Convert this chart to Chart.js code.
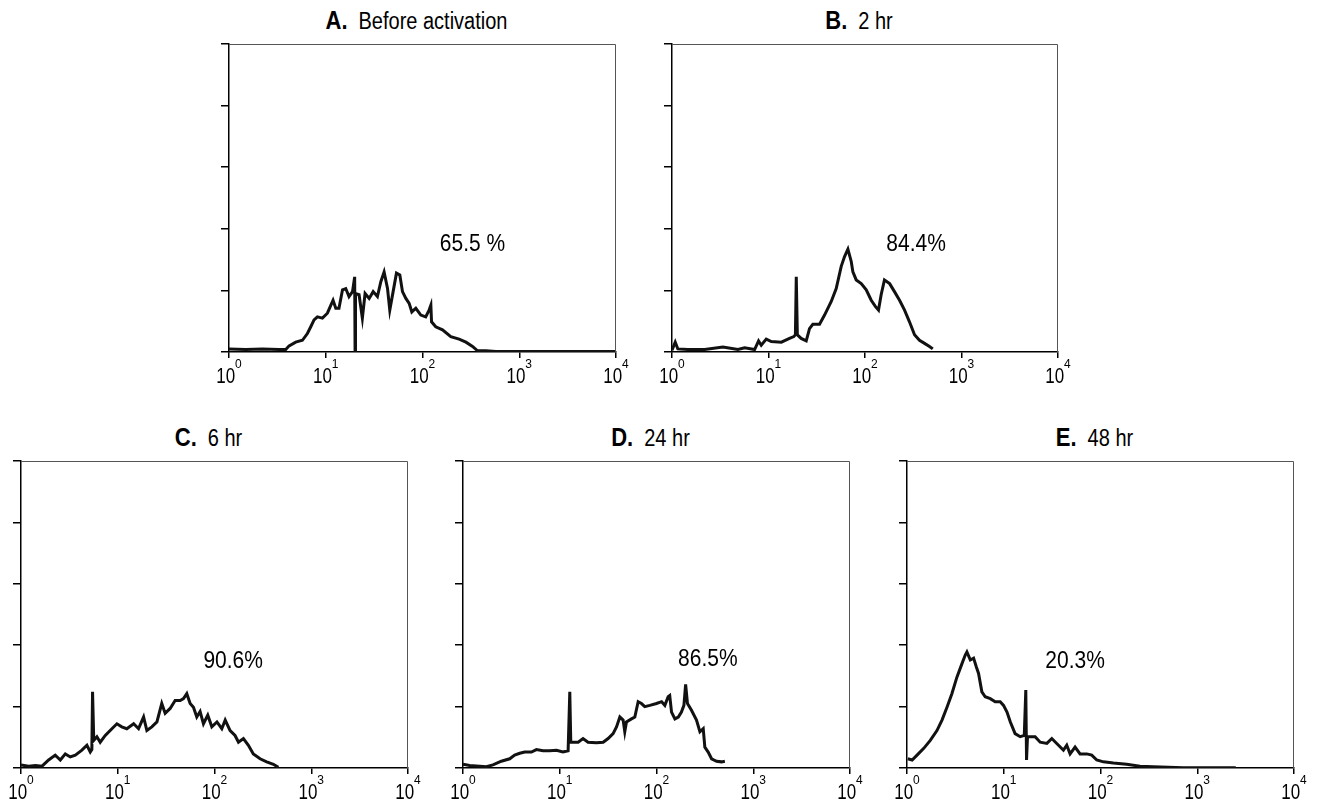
<!DOCTYPE html>
<html>
<head>
  <meta charset="UTF-8">
  <title>CD69 expression histograms</title>
  <script src="https://cdn.jsdelivr.net/npm/chart.js"></script>
  <style>
    * { margin: 0; padding: 0; box-sizing: border-box; }
    body { width: 1325px; height: 805px; background: #fff; position: relative; overflow: hidden;
           font-family: "Liberation Sans", Arial, sans-serif; color: #000; }
    .title { position: absolute; width: 320px; height: 30px; line-height: 30px; text-align: center;
             font-size: 20px; transform: scaleY(1.15); white-space: nowrap; }
    .title b { font-size: 22px; margin-right: 11px; }
    canvas { position: absolute; }
  </style>
</head>
<body>
<script>
  // --- data (x = fluorescence intensity, y = relative count) ---
  const decades = [1, 10, 100, 1000, 10000];
  const decadeExp = ['0', '1', '2', '3', '4'];

  const aX = [1, 1.49, 2.21, 3.29, 3.86, 4.18, 4.89, 5.74, 6.46, 7.0, 7.57, 8.2, 9.24, 10.4, 11.3,
    11.9, 12.7, 13.7, 14.9, 16.1, 17.4, 18.9, 19.9, 20.1, 20.3, 22.1, 23.9, 25.5, 28.1, 30.9,
    34.2, 37.1, 40.1, 43.5, 45.9, 49.7, 53.8, 58.3, 62.1, 67.3, 72.8, 77.6, 85.3, 96.1, 108,
    117, 122, 124, 137, 161, 196, 239, 281, 329, 371, 452, 574, 1000, 3000, 10000];
  const aY = [0.05, 0.04, 0.05, 0.04, 0.04, 0.10, 0.16, 0.19, 0.30, 0.41, 0.52, 0.57, 0.55, 0.63, 0.76,
    0.84, 0.71, 0.71, 1.01, 1.03, 0.90, 0.98, 1.22, 0.0, 0.95, 0.93, 0.55, 0.95, 0.87, 0.98,
    0.90, 1.14, 1.30, 1.03, 0.68, 0.98, 1.28, 1.25, 0.98, 0.87, 0.79, 0.65, 0.71, 0.60, 0.57,
    0.68, 0.76, 0.49, 0.41, 0.36, 0.25, 0.21, 0.16, 0.09, 0.02, 0.02, 0.01, 0.01, 0.01, 0.01];

  const bX = [1, 1.08, 1.15, 1.46, 2.18, 3.37, 4.82, 5.66, 7.18, 7.89, 8.41, 9.48, 10.7, 13.6, 16.5,
    18.3, 19.0, 19.4, 19.9, 21.8, 24.6, 26.6, 28.8, 33.8, 38.1, 44.7, 50.3, 56.7, 61.4, 66.5,
    72.0, 74.9, 81.1, 91.4, 103, 116, 128, 138, 147, 159, 180, 202, 228, 257, 289,
    326, 367, 414, 466, 504];
  const bY = [0.03, 0.16, 0.05, 0.04, 0.04, 0.08, 0.04, 0.07, 0.04, 0.18, 0.11, 0.21, 0.17, 0.16, 0.22,
    0.25, 0.28, 1.22, 0.28, 0.22, 0.18, 0.38, 0.45, 0.45, 0.60, 0.82, 1.03, 1.39, 1.55, 1.67,
    1.47, 1.30, 1.17, 1.11, 1.01, 0.84, 0.74, 0.68, 0.93, 1.17, 1.11, 0.98, 0.84, 0.68, 0.49,
    0.28, 0.19, 0.14, 0.09, 0.05];

  const cX = [1, 1.20, 1.41, 1.65, 1.93, 2.26, 2.55, 2.87, 3.23, 3.64, 4.26, 4.80, 5.20, 5.40, 5.49,
    5.65, 6.09, 6.59, 7.43, 8.70, 9.80, 11.0, 12.4, 14.6, 16.4, 18.5, 20.0, 22.5, 25.4, 28.5,
    30.9, 34.8, 39.2, 44.2, 47.8, 51.7, 56.0, 60.6, 65.6, 71.0, 76.9, 85.2, 93.8, 106, 119,
    129, 145, 163, 177, 199, 224, 252, 296, 346, 406, 457];
  const cY = [0.05, 0.03, 0.04, 0.03, 0.13, 0.21, 0.13, 0.23, 0.18, 0.21, 0.29, 0.37, 0.26, 0.30, 1.24,
    0.45, 0.51, 0.42, 0.53, 0.64, 0.72, 0.67, 0.64, 0.72, 0.64, 0.83, 0.61, 0.67, 0.75, 1.05,
    0.89, 0.97, 1.10, 1.10, 1.13, 1.21, 1.05, 0.99, 0.83, 0.92, 0.72, 0.86, 0.67, 0.75, 0.64,
    0.78, 0.61, 0.53, 0.42, 0.48, 0.37, 0.23, 0.15, 0.10, 0.06, 0.01];

  const dX = [1, 1.17, 1.49, 1.74, 2.04, 2.49, 3.04, 3.42, 3.86, 4.34, 5.09, 5.74, 6.73, 7.88, 9.24,
    10.8, 12.2, 12.7, 13.0, 13.7, 15.5, 17.4, 19.6, 23.9, 28.1, 31.6, 35.6, 38.6, 41.8, 45.2,
    47.0, 48.9, 55.1, 59.7, 64.6, 69.9, 75.7, 85.3, 100, 113, 122, 132, 137, 143, 155,
    168, 181, 192, 200, 209, 230, 259, 281, 304, 316, 342, 371, 418, 470, 509];
  const dY = [0.06, 0.04, 0.03, 0.02, 0.05, 0.11, 0.15, 0.21, 0.24, 0.26, 0.26, 0.30, 0.28, 0.28, 0.29,
    0.26, 0.28, 1.24, 0.42, 0.42, 0.42, 0.48, 0.42, 0.41, 0.42, 0.48, 0.56, 0.67, 0.83, 0.78,
    0.59, 0.75, 0.80, 0.83, 1.08, 1.05, 1.00, 1.02, 1.05, 1.08, 1.02, 1.16, 1.18, 0.91, 0.80,
    0.83, 0.91, 1.02, 1.36, 1.05, 0.94, 0.78, 0.59, 0.64, 0.34, 0.26, 0.15, 0.11, 0.10, 0.11];

  const eX = [1.02, 1.13, 1.27, 1.49, 1.74, 2.04, 2.30, 2.59, 2.91, 3.28, 3.70, 4.00, 4.16, 4.51, 4.88,
    5.20, 5.49, 5.94, 6.43, 7.25, 8.16, 9.19, 9.95, 10.8, 11.7, 13.1, 14.8, 16.3, 16.9, 17.2,
    17.6, 18.7, 21.1, 23.8, 27.9, 31.4, 35.3, 41.4, 44.8, 48.5, 54.6, 61.5, 72.1, 81.2, 91.4,
    107, 136, 186, 256, 351, 716, 2500];
  const eY = [0.15, 0.13, 0.21, 0.32, 0.45, 0.61, 0.78, 0.99, 1.21, 1.48, 1.70, 1.84, 1.89, 1.76, 1.79,
    1.65, 1.54, 1.24, 1.16, 1.13, 1.08, 1.08, 1.02, 0.91, 0.75, 0.56, 0.51, 0.53, 1.27, 0.13,
    0.51, 0.51, 0.51, 0.42, 0.40, 0.48, 0.40, 0.29, 0.37, 0.23, 0.34, 0.23, 0.23, 0.21, 0.13,
    0.10, 0.08, 0.06, 0.03, 0.02, 0.005, 0.003];

  const letters = ['A.', 'B.', 'C.', 'D.', 'E.'];
  const titles = ['Before activation', '2 hr', '6 hr', '24 hr', '48 hr'];
  const percents = ['65.5 %', '84.4%', '90.6%', '86.5%', '20.3%'];
  // where each percentage sits, in data units (x, y)
  const percentX = [329, 338, 156, 339, 54.6];
  const percentY = [1.74, 1.74, 1.73, 1.76, 1.74];

  // --- layout: plot areas in page pixels ---
  const areas = [
    { left: 229, top: 44, w: 387, h: 308 },
    { left: 672, top: 44, w: 386, h: 308 },
    { left: 21, top: 461, w: 387, h: 307 },
    { left: 463, top: 461, w: 387, h: 307 },
    { left: 907, top: 461, w: 387, h: 307 },
  ];
  const seriesX = [aX, bX, cX, dX, eX];
  const seriesY = [aY, bY, cY, dY, eY];

  const FONT = '"Liberation Sans", Arial, sans-serif';
  const PAD = { left: 32, top: 10, right: 30 };
  const AXIS_H = 45;

  const decor = {
    id: 'decor',
    afterDatasetsDraw(chart, args, opts) {
      const { ctx, chartArea: ca, scales } = chart;
      // frame top + right
      ctx.save();
      ctx.strokeStyle = '#555';
      ctx.lineWidth = 1;
      ctx.beginPath();
      ctx.moveTo(ca.left, ca.top + 0.5);
      ctx.lineTo(ca.right - 0.5, ca.top + 0.5);
      ctx.lineTo(ca.right - 0.5, ca.bottom);
      ctx.stroke();
      ctx.restore();

      // percentage label
      const px = scales.x.getPixelForValue(opts.px);
      const py = scales.y.getPixelForValue(opts.py);
      ctx.save();
      ctx.fillStyle = '#000';
      ctx.font = '21px ' + FONT;
      ctx.textAlign = 'center';
      ctx.textBaseline = 'middle';
      ctx.translate(px, py);
      ctx.scale(1, 1.1);
      ctx.fillText(opts.text, 0, 0);
      ctx.restore();

      // decade labels 10^n
      decades.forEach((v, i) => {
        const tx = scales.x.getPixelForValue(v);
        ctx.save();
        ctx.fillStyle = '#000';
        ctx.font = '17px ' + FONT;
        const w1 = ctx.measureText('10').width;
        ctx.font = '12px ' + FONT;
        const w2 = ctx.measureText(decadeExp[i]).width;
        const x0 = tx - (w1 + w2) / 2;
        ctx.save();
        ctx.font = '17px ' + FONT;
        ctx.translate(x0, ca.bottom + 31);
        ctx.scale(1, 1.3);
        ctx.fillText('10', 0, 0);
        ctx.restore();
        ctx.font = '12px ' + FONT;
        ctx.translate(x0 + w1, ca.bottom + 16);
        ctx.scale(1, 1.1);
        ctx.fillText(decadeExp[i], 0, 0);
        ctx.restore();
      });
    }
  };

  areas.forEach((a, i) => {
    // title
    const t = document.createElement('div');
    t.className = 'title';
    t.style.left = (a.left + a.w / 2 - 6 - 160) + 'px';
    t.style.top = (a.top - 23 - 15) + 'px';
    t.innerHTML = '<b>' + letters[i] + '</b>' + titles[i];
    document.body.appendChild(t);

    // canvas
    const cv = document.createElement('canvas');
    const cw = a.w + PAD.left + 8 + PAD.right;
    const ch = a.h + PAD.top + AXIS_H;
    cv.width = cw; cv.height = ch;
    cv.style.width = cw + 'px'; cv.style.height = ch + 'px';
    cv.style.left = (a.left - PAD.left - 8) + 'px';
    cv.style.top = (a.top - PAD.top) + 'px';
    document.body.appendChild(cv);

    new Chart(cv, {
      type: 'line',
      data: {
        datasets: [{
          data: seriesX[i].map((x, k) => ({ x, y: seriesY[i][k] })),
          borderColor: '#111',
          borderWidth: 3,
          pointRadius: 0,
          tension: 0,
          fill: false,
        }]
      },
      options: {
        responsive: false,
        animation: false,
        devicePixelRatio: 1,
        layout: { padding: { left: PAD.left, top: PAD.top, right: PAD.right, bottom: 0 } },
        plugins: {
          legend: { display: false },
          tooltip: { enabled: false },
          decor: { text: percents[i], px: percentX[i], py: percentY[i] },
        },
        scales: {
          x: {
            type: 'logarithmic',
            min: 1,
            max: 10000,
            afterBuildTicks: s => { s.ticks = decades.map(v => ({ value: v })); },
            afterFit: s => { s.height = AXIS_H; s.paddingLeft = 0; s.paddingRight = 0; },
            ticks: { display: false },
            grid: { drawOnChartArea: false, drawTicks: true, tickLength: 6, color: '#000', lineWidth: 1.5 },
            border: { display: true, color: '#000', width: 1.5 },
          },
          y: {
            min: 0,
            max: 5,
            ticks: { display: false, stepSize: 1 },
            afterFit: s => { s.width = 8; },
            grid: { drawOnChartArea: false, drawTicks: true, tickLength: 8, color: '#000', lineWidth: 1.5 },
            border: { display: true, color: '#000', width: 1.5 },
          }
        }
      },
      plugins: [decor]
    });
  });
</script>
</body>
</html>
